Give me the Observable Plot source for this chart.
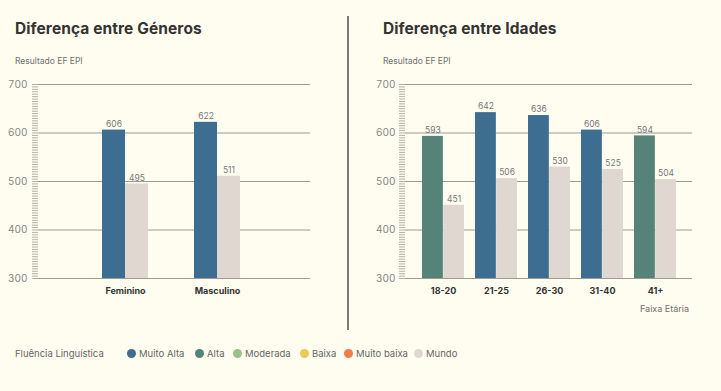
<!DOCTYPE html>
<html><head><meta charset="utf-8">
<script src="https://cdn.jsdelivr.net/npm/d3@7"></script>
<script src="https://cdn.jsdelivr.net/npm/@observablehq/plot@0.6"></script>
<style>
html,body{margin:0;padding:0;background:#fffdf0;}
#wrap{position:relative;width:721px;height:391px;background:#fffdf0;font-family:Inter,"Noto Sans",sans-serif;overflow:hidden;}
.title{position:absolute;font-weight:700;font-size:15.5px;color:#333;letter-spacing:0.1px;}
.sub{position:absolute;font-size:8.5px;color:#6f6f6f;}
.panel{position:absolute;top:0;}
#divider{position:absolute;left:347px;top:16px;width:2px;height:314px;background:#7d7a72;}
#xlabel{position:absolute;left:640px;top:303px;font-size:9px;color:#6f6f6f;}
#legend{position:absolute;left:0;top:348px;width:721px;height:14px;font-size:9.5px;color:#666;}
#legend .item{position:absolute;top:0;display:flex;align-items:center;white-space:nowrap;}
#legend .dot{width:9px;height:9px;border-radius:50%;margin-right:3px;display:inline-block;}
</style></head>
<body><div id="wrap">
<div class="title" style="left:15px;top:19px;">Diferença entre Géneros</div>
<div class="sub" style="left:15px;top:56px;">Resultado EF EPI</div>
<div class="title" style="left:383px;top:19px;">Diferença entre Idades</div>
<div class="sub" style="left:383px;top:56px;">Resultado EF EPI</div>
<div id="divider"></div>
<div class="panel" id="left" style="left:0px;"></div>
<div class="panel" id="right" style="left:360px;"></div>
<div id="xlabel">Faixa Etária</div>
<div id="legend"></div>
</div>
<script>
// Data
const genderCats = ["Feminino", "Masculino"];
const genderScore = [606, 622];
const genderWorld = [495, 511];
const genderLevel = ["Muito Alta", "Muito Alta"];

const ageCats = ["18-20", "21-25", "26-30", "31-40", "41+"];
const ageScore = [593, 642, 636, 606, 594];
const ageWorld = [451, 506, 530, 525, 504];
const ageLevel = ["Alta", "Muito Alta", "Muito Alta", "Muito Alta", "Alta"];

const levels = ["Muito Alta", "Alta", "Moderada", "Baixa", "Muito baixa", "Mundo"];
const levelColors = ["#3d6e91", "#558377", "#9dbf88", "#e8c95a", "#f47c4c", "#e0d8d0"];
const yTicks = [300, 400, 500, 600, 700];

function panel(cats, score, world, level, opts) {
  const data = cats.map((c, i) => ({cat: c, score: score[i], world: world[i], level: level[i]}));
  const half = opts.bandwidth / 2;
  const minor = d3.range(300, 701, 5);
  return Plot.plot({
    width: opts.width, height: 320,
    marginLeft: opts.marginLeft, marginRight: opts.marginRight,
    marginTop: 84, marginBottom: 42,
    style: {background: "transparent", fontFamily: "Inter, 'Noto Sans', sans-serif"},
    x: opts.x,
    y: {domain: [300, 700]},
    color: {domain: levels, range: levelColors},
    marks: [
      Plot.ruleY(yTicks, {stroke: "#9e9b92", strokeWidth: 1.2}),
      Plot.axisY(minor, {tickSize: 6, text: null, stroke: "#b3afa5", strokeWidth: 1}),
      Plot.axisY(yTicks, {tickSize: 0, tickPadding: opts.tickPad, fontSize: 10, fill: "#858585", label: null}),
      Plot.barY(data, {x: "cat", y1: 300, y2: "score", fill: "level", insetRight: half}),
      Plot.barY(data, {x: "cat", y1: 300, y2: "world", fill: () => "Mundo", insetLeft: half}),
      Plot.text(data, {x: "cat", y: "score", text: d => String(d.score), dx: -half / 2, dy: -6, fontSize: 8.5, fill: "#777"}),
      Plot.text(data, {x: "cat", y: "world", text: d => String(d.world), dx: half / 2, dy: -6, fontSize: 8.5, fill: "#777"}),
      Plot.axisX({tickSize: 0, tickPadding: 9, fontSize: 9, fontWeight: 700, fill: "#333", label: null})
    ]
  });
}

const left = panel(genderCats, genderScore, genderWorld, genderLevel, {
  width: 340, marginLeft: 38, marginRight: 30, tickPad: 11, bandwidth: 46,
  x: {domain: genderCats, range: [79, 263], paddingInner: 0.5, paddingOuter: 0.25}
});
document.getElementById("left").appendChild(left);

const right = panel(ageCats, ageScore, ageWorld, ageLevel, {
  width: 361, marginLeft: 45, marginRight: 29, tickPad: 10, bandwidth: 42.3,
  x: {domain: ageCats, paddingInner: 0.21, paddingOuter: 0.28}
});
document.getElementById("right").appendChild(right);

// Legend
const legendX = [127, 195, 233, 300, 344, 414];
const lg = document.getElementById("legend");
const lab = document.createElement("span");
lab.className = "item"; lab.style.left = "15px";
lab.textContent = "Fluência Linguística";
lg.appendChild(lab);
levels.forEach((l, i) => {
  const it = document.createElement("span"); it.className = "item"; it.style.left = legendX[i] + "px";
  const d = document.createElement("span"); d.className = "dot"; d.style.background = levelColors[i];
  const t = document.createElement("span"); t.textContent = l;
  it.appendChild(d); it.appendChild(t); lg.appendChild(it);
});
</script>
</body></html>
